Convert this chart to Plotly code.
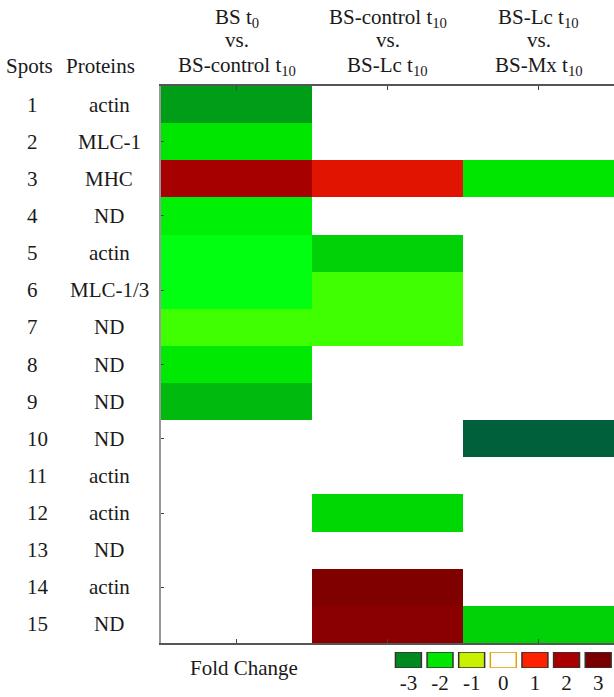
import plotly.graph_objects as go

W, H = 614, 697

# ---------------- data ----------------
spots = [str(i) for i in range(1, 16)]
proteins = ["actin", "MLC-1", "MHC", "ND", "actin", "MLC-1/3", "ND", "ND", "ND",
            "ND", "actin", "actin", "ND", "actin", "ND"]
comparisons = [
    ["BS t<sub>0</sub>", "vs.", "BS-control t<sub>10</sub>"],
    ["BS-control t<sub>10</sub>", "vs.", "BS-Lc t<sub>10</sub>"],
    ["BS-Lc t<sub>10</sub>", "vs.", "BS-Mx t<sub>10</sub>"],
]
# fold change per spot (rows) for each comparison (columns); None = no change shown
bs0_vs_ctrl = [-2.78, -2.0, 2.03, -1.9, -1.75, -1.75, -1.5, -1.97, -2.48,
               None, None, None, None, None, None]
ctrl_vs_lc = [None, None, 1.36, None, -2.22, -1.5, -1.5, None, None,
              None, None, -2.15, None, 2.83, 2.63]
lc_vs_mx = [None, None, -2.0, None, None, None, None, None, None,
            -3.95, None, None, None, None, -2.22]
legend_values = [-3, -2, -1, 0, 1, 2, 3]
legend_labels = ["-3", "-2", "-1", "0", "1", "2", "3"]

# ---------------- style ----------------
CMIN, CMAX = -4, 3
stops = [(-4, "#005E3C"), (-3, "#008A1E"), (-2, "#00E600"), (-1.75, "#00FF10"),
         (-1.5, "#40FF00"), (-1, "#C8F000"), (0, "#FFFFFF"), (1, "#FF2000"),
         (2, "#A80000"), (3, "#780000")]
colorscale = [[(v - CMIN) / (CMAX - CMIN), c] for v, c in stops]
FONT = "Liberation Serif, Times New Roman, DejaVu Serif, serif"
FS = 21
TXT = dict(family=FONT, size=FS, color="#1a1a1a")


def px_x(p):
    return p / W


def px_y(p):
    return 1 - p / H


rows = list(range(1, len(spots) + 1))
cols = list(range(len(comparisons)))
z = [[bs0_vs_ctrl[i], ctrl_vs_lc[i], lc_vs_mx[i]] for i in range(len(spots))]

fig = go.Figure()
fig.add_trace(go.Heatmap(
    z=z, x=cols, y=rows, colorscale=colorscale, zmin=CMIN, zmax=CMAX,
    showscale=False, hoverinfo="skip", xaxis="x", yaxis="y"))

line_colors = ["#333333" if v != 0 else "#E8A000" for v in legend_values]
fig.add_trace(go.Bar(
    x=legend_values, y=[1] * len(legend_values), width=0.82,
    marker=dict(color=legend_values, colorscale=colorscale, cmin=CMIN, cmax=CMAX,
                line=dict(color=line_colors, width=1.5)),
    hoverinfo="skip", xaxis="x2", yaxis="y2", showlegend=False))

ann = []
for j, lines in enumerate(comparisons):
    for txt, yp in zip(lines, [18, 40, 66]):
        ann.append(dict(x=j, xref="x", y=px_y(yp), yref="paper", text=txt,
                        showarrow=False, xanchor="center", yanchor="middle", font=TXT))
ann.append(dict(x=px_x(4), xref="paper", y=px_y(66), yref="paper", text="Spots",
                showarrow=False, xanchor="left", yanchor="middle", font=TXT))
ann.append(dict(x=px_x(100), xref="paper", y=px_y(66), yref="paper", text="Proteins",
                showarrow=False, xanchor="center", yanchor="middle", font=TXT))
for r, s, p in zip(rows, spots, proteins):
    ann.append(dict(x=px_x(25), xref="paper", y=r, yref="y", text=s,
                    showarrow=False, xanchor="left", yanchor="middle", font=TXT))
    ann.append(dict(x=px_x(109), xref="paper", y=r, yref="y", text=p,
                    showarrow=False, xanchor="center", yanchor="middle", font=TXT))
ann.append(dict(x=px_x(244), xref="paper", y=px_y(668), yref="paper", text="Fold Change",
                showarrow=False, xanchor="center", yanchor="middle", font=TXT))

fig.update_layout(
    width=W, height=H, margin=dict(l=0, r=0, t=0, b=0, autoexpand=False),
    paper_bgcolor="white", plot_bgcolor="white", showlegend=False,
    annotations=ann,
    xaxis=dict(domain=[px_x(161), 1], range=[-0.5, 2.5], tickvals=cols,
               showticklabels=False, ticks="inside", ticklen=4, tickcolor="#444",
               showline=True, linecolor="#555", linewidth=1.5, mirror="ticks",
               showgrid=False, zeroline=False, fixedrange=True, automargin=False),
    yaxis=dict(domain=[px_y(643), px_y(86)], range=[15.5, 0.5],
               tickvals=rows[1::2], showticklabels=False, ticks="inside", ticklen=3,
               tickcolor="#444", showline=True, linecolor="#999", linewidth=1.5,
               showgrid=False, zeroline=False, fixedrange=True, automargin=False),
    xaxis2=dict(domain=[px_x(392.6), 1], range=[-3.5, 3.5], anchor="y2",
                tickvals=legend_values, ticktext=legend_labels, ticks="",
                ticklabelstandoff=0, tickfont=TXT, automargin=False,
                showline=False, showgrid=False, zeroline=False, fixedrange=True),
    yaxis2=dict(domain=[px_y(668), px_y(652)], range=[0, 1], anchor="x2",
                visible=False, fixedrange=True, automargin=False),
)

fig.write_html("out.html", config={"displayModeBar": False},
               post_script="document.body.style.margin='0';"
                           "document.body.style.overflow='hidden';")
